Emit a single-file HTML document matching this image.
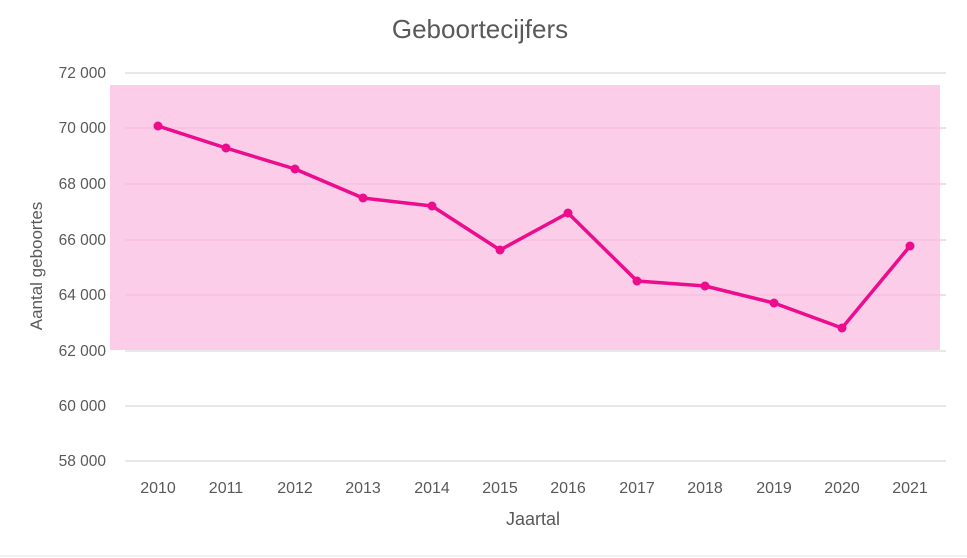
<!DOCTYPE html>
<html><head><style>body{margin:0;background:#fff}svg{display:block}text{font-family:"Liberation Sans",sans-serif;fill:#595959}</style></head>
<body>
<svg width="967" height="558" viewBox="0 0 967 558">
<rect x="0" y="0" width="967" height="558" fill="#fff"/>
<rect x="110" y="85" width="830" height="265" fill="#fccde9"/>
<g stroke="#d9d9d9" stroke-width="1.3">
<line x1="125" x2="946" y1="73" y2="73"/>
<line x1="125" x2="946" y1="128" y2="128" stroke="#f7bfe0"/>
<line x1="125" x2="946" y1="184" y2="184" stroke="#f7bfe0"/>
<line x1="125" x2="946" y1="240" y2="240" stroke="#f7bfe0"/>
<line x1="125" x2="946" y1="295" y2="295" stroke="#f7bfe0"/>
<line x1="125" x2="946" y1="351" y2="351"/>
<line x1="125" x2="946" y1="406" y2="406"/>
<line x1="125" x2="946" y1="461" y2="461"/>
</g>
<line x1="0" x2="967" y1="556" y2="556" stroke="#e6e6e6"/>
<text x="480" y="38" text-anchor="middle" font-size="26">Geboortecijfers</text>
<g font-size="15.5" text-anchor="end">
<text x="106" y="78">72 000</text><text x="106" y="133">70 000</text><text x="106" y="189">68 000</text>
<text x="106" y="245">66 000</text><text x="106" y="300">64 000</text><text x="106" y="356">62 000</text>
<text x="106" y="411">60 000</text><text x="106" y="466">58 000</text>
</g>
<g font-size="16" text-anchor="middle">
<text x="158" y="493">2010</text><text x="226" y="493">2011</text><text x="295" y="493">2012</text>
<text x="363" y="493">2013</text><text x="432" y="493">2014</text><text x="500" y="493">2015</text>
<text x="568" y="493">2016</text><text x="637" y="493">2017</text><text x="705" y="493">2018</text>
<text x="774" y="493">2019</text><text x="842" y="493">2020</text><text x="910" y="493">2021</text>
</g>
<text x="533" y="525" text-anchor="middle" font-size="18">Jaartal</text>
<text transform="translate(42,266) rotate(-90)" text-anchor="middle" font-size="17">Aantal geboortes</text>
<polyline fill="none" stroke="#ec0c8c" stroke-width="3.5" stroke-linejoin="round" points="158,126 226,148 295,169 363,198 432,206 500,250 568,213 637,281 705,286 774,303 842,328 910,246"/>
<g fill="#ec0c8c">
<circle cx="158" cy="126" r="4.5"/><circle cx="226" cy="148" r="4.5"/><circle cx="295" cy="169" r="4.5"/>
<circle cx="363" cy="198" r="4.5"/><circle cx="432" cy="206" r="4.5"/><circle cx="500" cy="250" r="4.5"/>
<circle cx="568" cy="213" r="4.5"/><circle cx="637" cy="281" r="4.5"/><circle cx="705" cy="286" r="4.5"/>
<circle cx="774" cy="303" r="4.5"/><circle cx="842" cy="328" r="4.5"/><circle cx="910" cy="246" r="4.5"/>
</g>
</svg>
</body></html>
